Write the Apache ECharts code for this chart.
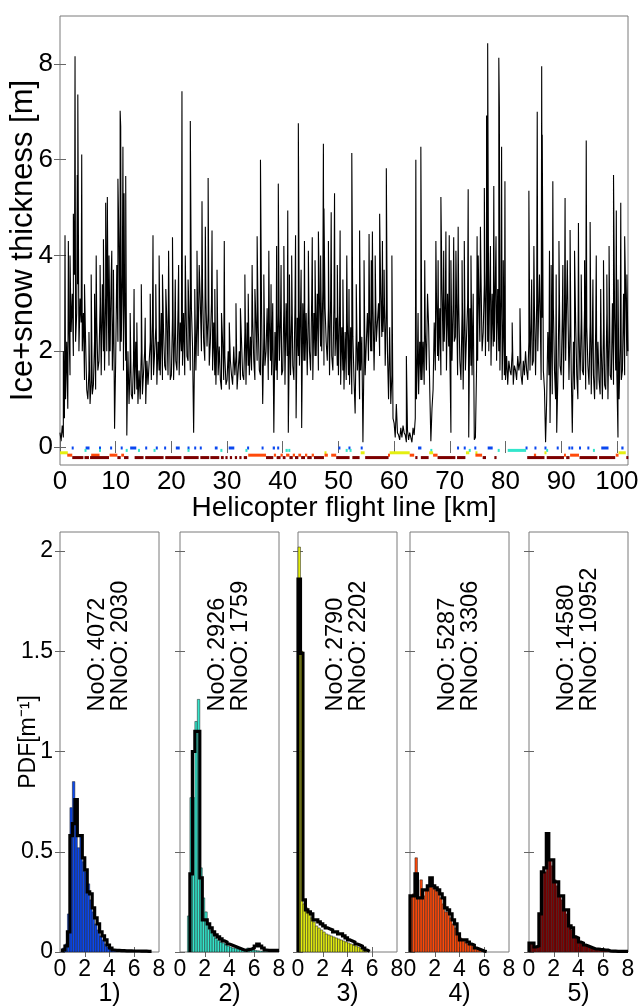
<!DOCTYPE html>
<html><head><meta charset="utf-8">
<script src="https://cdn.jsdelivr.net/npm/echarts@6/dist/echarts.min.js"></script>
<style>html,body{margin:0;padding:0;background:#fff}#c{width:638px;height:1008px}</style>
</head><body><div id="c"></div>
<script>
// ---------- DATA ----------
// Ice+snow thickness along the flight line, sampled every 0.2 km (5 values per km row)
const kmStep = 0.2;
const thicknessBase = [
0.3,0.12,0.45,0.2,0.6, 1.0,2.2,0.8,2.6,1.5, 2.4,3.2,1.9,3.6,2.2, 2.8,3.4,2.0,3.1,2.6, 2.0,2.8,1.4,2.2,1.2,
1.0,1.6,0.9,1.4,1.1, 1.3,2.2,1.2,2.6,1.6, 1.8,3.0,1.5,3.4,2.0, 1.6,3.2,2.0,3.5,1.7, 2.0,3.6,1.6,2.8,0.38,
1.8,3.8,2.2,4.2,2.0, 2.2,3.6,1.6,3.2,1.8, 0.24,2.0,0.9,1.8,1.1, 1.0,1.8,1.1,2.2,1.2, 0.9,1.6,1.0,2.0,1.1,
1.1,2.0,0.9,1.8,1.3, 1.3,2.2,1.4,2.6,1.5, 1.5,2.5,1.3,2.2,1.6, 1.5,2.8,1.4,2.4,1.7, 1.6,2.6,1.5,2.9,1.4,
1.5,2.7,1.4,2.4,1.8, 1.6,2.9,1.5,2.6,2.0, 1.7,2.8,1.5,3.1,1.9, 1.8,2.7,1.6,2.9,2.1, 0.3,2.4,1.6,2.8,1.9,
1.9,3.0,2.0,3.3,2.2, 1.8,3.1,2.1,2.8,1.7, 2.2,3.0,1.6,2.6,1.5, 1.3,2.4,1.5,2.1,1.4, 1.2,2.2,1.4,1.9,1.3,
1.4,2.0,1.2,1.8,1.5, 1.3,2.1,1.5,1.9,1.2, 1.2,2.0,1.4,2.2,1.5, 1.4,2.4,1.3,2.6,1.7, 1.5,2.3,1.6,2.7,1.8,
1.4,2.6,1.8,2.5,1.6, 1.5,2.8,0.9,2.3,1.7, 2.0,2.9,1.4,2.6,1.8, 1.5,3.0,0.3,2.4,1.6, 1.4,2.8,1.8,2.7,1.5,
1.6,2.9,1.3,3.0,1.9, 0.3,2.4,1.5,2.8,1.7, 1.4,3.0,0.6,2.7,1.9, 1.7,2.9,0.4,3.0,1.8, 1.8,2.8,1.5,3.0,2.0,
1.6,3.1,1.4,2.8,1.9, 1.9,3.2,1.6,3.0,2.1, 2.0,3.3,1.7,2.9,2.2, 1.8,2.9,1.5,3.1,1.9, 1.6,3.0,1.9,2.7,1.7,
1.5,2.8,1.3,2.5,1.6, 1.2,2.4,1.4,2.6,1.5, 1.3,2.5,1.1,2.3,1.4, 0.7,2.5,1.6,2.2,1.0, 1.6,2.3,0.1,2.0,1.5,
1.5,2.8,1.8,2.7,2.0, 2.0,3.0,1.6,2.9,2.2, 2.2,3.0,1.9,3.2,2.3, 2.4,3.0,1.7,2.9,2.0, 1.0,2.5,0.9,1.5,0.6,
0.5,0.2,0.9,0.3,0.25, 0.15,0.4,0.2,0.45,0.3, 0.25,0.1,0.35,0.15,0.3, 0.3,0.1,0.4,0.25,0.6, 1.0,1.9,1.1,2.2,1.4,
1.4,2.2,1.3,2.4,1.6, 1.6,2.5,1.2,0.12,0.8, 1.2,2.6,1.6,3.2,1.9, 1.8,2.9,1.5,3.3,2.0, 2.2,3.1,1.6,3.2,2.1,
2.0,0.3,1.8,3.0,2.2, 2.3,3.2,1.5,3.0,1.8, 1.4,2.8,1.2,3.0,1.6, 1.6,3.0,0.2,2.9,1.7, 1.5,3.2,0.15,0.2,1.6,
1.8,3.3,2.2,3.6,2.0, 2.4,3.4,1.9,3.7,2.2, 2.0,3.5,1.7,3.2,2.1, 2.2,3.6,1.8,3.3,2.0, 1.6,3.2,1.4,2.7,1.5,
1.4,1.9,1.3,1.8,1.6, 1.5,2.0,1.3,1.7,1.6, 1.4,1.9,1.6,1.8,1.5, 1.3,1.8,1.5,2.0,1.6, 1.4,2.2,1.6,2.6,1.7,
1.8,2.9,1.5,3.0,2.0, 2.0,3.0,1.4,2.7,1.6, 1.2,0.1,1.0,2.4,1.5, 0.5,2.7,1.1,2.9,1.6, 1.0,0.3,1.4,3.0,1.7,
1.5,2.7,1.2,2.9,1.8, 1.8,3.0,1.4,2.6,1.6, 0.3,2.2,1.2,2.6,1.5, 1.0,2.4,1.4,2.7,1.6, 1.5,2.9,1.2,2.5,1.7,
1.3,2.6,1.1,2.4,1.5, 1.0,2.5,1.2,2.2,1.4, 1.1,2.1,1.0,2.5,1.3, 1.2,2.8,1.0,2.6,1.5, 1.4,3.0,1.3,2.7,1.6,
1.5,0.2,1.0,2.1,1.4, 1.6,3.2,1.5,3.1,1.9, 2.0
];
// isolated ridges / spikes: [km, thickness m]
const thicknessSpikes = [
[0.6,2.0],[0.9,4.42],[1.5,4.3],[1.8,4.0],[2.4,4.87],[2.7,8.16],[3.1,5.68],[3.2,7.36],[3.9,6.11],[4.4,3.4],
[5.2,2.4],[5.6,3.6],[6.2,3.2],[6.5,4.0],[7.2,3.8],[7.8,4.34],[8.2,5.1],[8.5,5.22],[8.8,4.0],[9.3,4.1],
[9.6,3.7],[10.4,5.6],[10.8,7.02],[10.9,6.7],[11.3,6.27],[11.5,5.3],[11.8,5.66],[12.6,2.8],[13.3,3.3],[13.8,2.6],
[14.6,3.4],[15.3,2.7],[16.2,3.2],[16.7,4.42],[17.2,3.4],[17.8,4.0],[18.4,3.6],[19.0,3.3],[19.5,4.1],[20.2,4.38],
[20.7,3.5],[21.3,3.8],[21.9,7.43],[22.5,4.0],[23.0,3.5],[23.4,6.81],[24.2,3.3],[24.6,4.1],[25.0,3.8],[25.5,5.13],
[26.1,4.6],[26.6,5.62],[27.3,4.52],[27.8,3.3],[28.2,3.7],[29.0,2.8],[29.5,4.3],[30.4,2.6],[31.6,3.0],[32.4,2.9],
[33.2,3.6],[33.8,3.2],[34.5,3.8],[35.0,3.3],[35.4,4.4],[36.0,6.0],[36.6,3.6],[37.5,4.1],[37.9,3.4],[38.9,4.2],
[39.2,5.5],[39.7,3.8],[40.2,4.2],[40.9,4.94],[41.2,3.6],[41.6,4.0],[42.3,4.42],[42.8,6.76],[43.3,3.7],[43.9,4.3],
[44.6,4.1],[45.3,4.38],[45.8,3.9],[46.4,4.5],[46.8,4.0],[47.3,6.33],[47.4,4.98],[48.2,4.3],[48.7,4.9],[49.3,5.3],
[49.8,3.8],[50.3,4.52],[50.8,3.5],[51.5,4.0],[51.9,3.3],[52.4,6.14],[53.2,3.4],[53.8,4.52],[54.6,3.9],[55.5,4.45],
[55.9,3.9],[56.1,4.5],[56.6,4.0],[57.4,4.87],[57.9,4.3],[58.2,3.7],[58.6,5.82],[59.6,4.0],[62.2,1.9],[63.9,6.0],
[64.3,2.8],[64.8,6.27],[65.5,3.9],[66.0,3.2],[67.5,4.3],[67.9,3.9],[68.4,5.22],[68.9,4.1],[69.3,4.5],[69.9,4.42],
[70.2,3.9],[70.7,4.38],[71.1,4.1],[71.5,4.6],[72.2,3.9],[72.6,4.3],[73.3,5.38],[73.8,4.0],[74.9,4.4],[75.1,4.0],
[75.5,4.6],[76.2,5.41],[76.6,6.92],[76.8,8.43],[77.3,4.2],[77.9,5.45],[78.3,4.4],[78.8,8.13],[78.9,7.1],[79.3,6.27],
[79.6,3.9],[79.9,5.55],[81.2,2.6],[82.6,2.9],[84.2,5.35],[84.7,3.5],[85.1,4.2],[85.7,7.0],[86.1,3.6],[86.5,7.95],
[86.6,6.52],[87.9,4.1],[88.2,3.8],[88.5,5.55],[89.1,3.6],[89.6,4.3],[90.3,3.8],[90.7,5.2],[91.1,3.9],[91.6,4.53],
[92.4,4.1],[93.1,4.68],[93.6,3.6],[94.2,3.9],[94.5,6.4],[95.2,4.7],[95.7,3.5],[96.3,4.0],[97.1,3.3],[97.6,3.9],
[98.2,3.6],[98.6,4.2],[99.4,5.68],[99.9,4.94],[100.2,3.5],[100.7,5.1],[101.4,4.4],[101.8,3.6]
];
// ice-class segments along the track [startKm, endKm]
const class1Segments = [[2.1,2.4],[4.6,5.3],[7.0,7.3],[9.0,9.3],[10.9,11.1],[12.6,13.7],[15.3,15.6],[17.2,17.5],[18.7,19.0],[20.8,21.5],[22.9,23.2],[24.1,24.4],[25.1,25.4],[27.8,28.3],[30.3,31.3],[33.6,33.9],[36.2,36.5],[38.2,38.6],[39.0,39.3],[50.0,50.3],[51.8,52.1],[54.0,54.2],[64.3,64.9],[71.3,71.6],[72.5,72.8],[74.4,74.6],[76.8,77.7],[83.6,83.9],[85.2,85.4],[87.0,87.2],[89.2,89.5],[91.3,91.5],[91.8,92.0],[93.2,93.4],[94.7,94.9],[97.2,98.5],[100.8,101.2]];
const class2Segments = [[4.4,4.7],[7.0,7.2],[11.8,12.1],[14.0,14.3],[16.8,17.1],[22.9,23.1],[28.8,29.1],[33.3,33.6],[40.5,40.9],[41.0,41.3],[51.3,51.6],[52.0,52.3],[66.5,66.8],[73.4,73.7],[78.6,78.9],[80.4,83.7],[87.3,87.5],[95.7,96.0]];
const class3Segments = [[0.0,1.4],[47.5,47.7],[54.0,54.7],[59.2,62.8],[66.3,67.0],[72.9,73.5],[74.6,74.8],[87.0,87.3],[100.3,101.6]];
const class4Segments = [[1.3,2.2],[5.6,7.1],[8.9,10.3],[11.0,11.5],[33.8,37.0],[38.4,38.8],[39.6,40.0],[40.6,41.2],[41.8,42.2],[42.8,43.3],[44.0,44.4],[45.2,45.6],[47.5,48.1],[48.7,49.6],[58.9,59.2],[62.8,63.6],[67.0,67.8],[74.6,75.8],[85.1,85.5],[90.5,90.8],[91.6,93.2],[99.8,100.3]];
const class5Segments = [[2.2,4.2],[4.4,5.2],[5.4,8.8],[10.3,10.9],[11.5,12.3],[13.4,15.0],[15.3,18.6],[18.9,21.8],[22.2,24.9],[25.2,26.8],[27.0,28.6],[28.9,29.4],[29.7,30.1],[30.5,30.9],[31.4,31.8],[32.2,32.6],[33.0,33.6],[37.0,38.3],[38.9,39.6],[40.0,40.5],[41.2,41.8],[42.2,42.8],[43.3,44.0],[44.4,45.2],[45.6,47.4],[49.6,52.0],[52.5,53.8],[54.8,59.0],[63.8,64.2],[64.8,66.2],[67.8,71.0],[71.3,72.8],[75.9,76.5],[78.0,78.4],[83.9,87.0],[87.4,90.5],[90.9,91.5],[93.3,96.5],[96.8,99.7],[101.7,102]];

// Thickness PDFs per ice class, bins of 0.2 m from 0 to 8 m
const binWidth = 0.2;
const pdfBars1 = [0,0.02,0.04,0.19,0.72,0.85,0.66,0.52,0.58,0.45,0.40,0.34,0.26,0.20,0.14,0.11,0.08,0.06,0.04,0.025,0.015,0.01,0.008,0.006,0.006,0.005,0.005,0.004,0.004,0.004,0.003,0.003,0.003,0.003,0.002,0.002,0,0,0,0];
const pdfLine1 = [null,0.01,0.03,0.1,0.58,0.64,0.76,0.58,0.58,0.47,0.41,0.30,0.29,0.22,0.17,0.14,0.10,0.08,0.06,0.035,0.02,0.01,0.008,0.008,0.007,0.007,0.006,0.006,0.006,0.005,0.005,0.005,0.004,0.004,0.004,0.003,0.003,null,null,null];
const pdfBars2 = [0,0,0,0.18,0.77,0.77,1.15,1.26,0.42,0.27,0.20,0.14,0.11,0.09,0.07,0.06,0.05,0.045,0.04,0.03,0.025,0.02,0.018,0.015,0.012,0.01,0.015,0.02,0.015,0.01,0.008,0.006,0.005,0.004,0.003,0.003,0.002,0.002,0.002,0.002];
const pdfLine2 = [null,null,null,null,0.39,1.0,1.1,1.1,0.37,0.16,0.16,0.14,0.12,0.10,0.085,0.075,0.065,0.055,0.05,0.04,0.035,0.03,0.025,0.02,0.015,0.01,0.008,0.012,0.015,0.02,0.03,0.04,0.03,0.02,0.01,0.008,0.008,0.008,0.008,0.008];
const pdfBars3 = [2.02,1.5,0.24,0.22,0.2,0.17,0.15,0.13,0.12,0.11,0.10,0.09,0.085,0.08,0.075,0.07,0.065,0.06,0.055,0.05,0.045,0.04,0.035,0.03,0.025,0.02,0.01,0.005,0,0,0,0,0,0,0,0,0,0,0,0];
const pdfLine3 = [1.86,1.49,0.26,0.21,0.2,0.19,0.16,0.16,0.15,0.14,0.13,0.12,0.115,0.11,0.10,0.10,0.09,0.09,0.08,0.07,0.06,0.055,0.05,0.04,0.035,0.03,0.02,0.01,0.003,null,null,null,null,null,null,null,null,null,null,null];
const pdfBars4 = [0.28,0.29,0.47,0.27,0.36,0.28,0.31,0.33,0.34,0.32,0.31,0.30,0.27,0.24,0.20,0.20,0.17,0.14,0.12,0.09,0.07,0.06,0.05,0.04,0.035,0.03,0.02,0.012,0.008,0.004,0,0,0,0,0,0,0,0,0,0];
const pdfLine4 = [0.28,0.28,0.39,0.27,0.27,0.31,0.31,0.33,0.37,0.33,0.32,0.31,0.29,0.27,0.22,0.21,0.19,0.16,0.14,0.09,0.06,0.06,0.06,0.05,0.04,0.035,0.02,0.015,0.01,0.005,0.002,null,null,null,null,null,null,null,null,null];
const pdfBars5 = [0.045,0.04,0.03,0.03,0.19,0.40,0.40,0.50,0.46,0.43,0.36,0.33,0.28,0.26,0.21,0.19,0.13,0.11,0.08,0.065,0.05,0.04,0.035,0.03,0.025,0.02,0.018,0.015,0.012,0.01,0.009,0.007,0.005,0.004,0.003,0.002,0.002,0.002,0.002,0.002];
const pdfLine5 = [0.045,0.045,0.025,0.03,0.19,0.40,0.42,0.59,0.46,0.46,0.35,0.35,0.28,0.28,0.21,0.21,0.13,0.12,0.075,0.07,0.05,0.045,0.035,0.03,0.025,0.02,0.015,0.015,0.013,0.012,0.01,0.01,0.005,0.004,0.004,0.003,0.003,0.003,0.003,0.003];
const countsNoO = [4072, 2926, 2790, 5287, 14580];
const countsRNoO = [2030, 1759, 2202, 3306, 10952];
const panelLabels = ['1)', '2)', '3)', '4)', '5)'];

const topXTicks = [0,10,20,30,40,50,60,70,80,90,100];
const topYTicks = [0,2,4,6,8];
const pdfXLabels = [0,2,4,6,8];
const pdfXTicks = [2,4,6];
const pdfYTicks = [0,0.5,1,1.5,2];

// ---------- STYLE ----------
const FONT = '"Liberation Sans", Arial, sans-serif';
const classColors = ['#0a48f0', '#33e6cc', '#e4ef10', '#ff4a0a', '#7c0000'];
const classRowY = [-0.02, -0.07, -0.12, -0.17, -0.22];
const panelLeft = [60, 180, 298, 410, 529];
const panelTop = 532, panelW = 99, panelH = 420;
const borderCol = '#7a7a7a', tickCol = '#666';

const chart = echarts.init(document.getElementById('c'), null, {renderer: 'canvas'});

const linePts = thicknessBase.map((v, i) => [+(i * kmStep).toFixed(2), v]).concat(thicknessSpikes.map(p => [p[0], p[1]]));
linePts.sort((a, b) => a[0] - b[0]);

const gridBase = {show: true, borderColor: borderCol, borderWidth: 1, containLabel: false, outerBoundsMode: 'none'};
const grids = [Object.assign({left: 60, top: 16, width: 568, height: 449}, gridBase)];
panelLeft.forEach(l => grids.push(Object.assign({left: l, top: panelTop, width: panelW, height: panelH}, gridBase)));

const tickStyle = {color: tickCol, width: 1};
const xAxes = [
  {type: 'value', gridIndex: 0, min: 0, max: 102, position: 'bottom',
   axisLine: {show: false}, splitLine: {show: false},
   axisTick: {inside: true, length: 6, lineStyle: tickStyle, customValues: topXTicks},
   axisLabel: {customValues: topXTicks, fontSize: 26, fontFamily: FONT, color: '#000', margin: 4},
   name: 'Helicopter flight line [km]', nameLocation: 'middle', nameGap: 29, nameMoveOverlap: false,
   nameTextStyle: {fontSize: 28, fontFamily: FONT, color: '#000'}},
  {type: 'value', gridIndex: 0, min: 0, max: 102, position: 'top',
   axisLine: {show: false}, splitLine: {show: false},
   axisTick: {inside: true, length: 6, lineStyle: tickStyle, customValues: topXTicks},
   axisLabel: {show: false}}
];
const yAxes = [
  {type: 'value', gridIndex: 0, min: -0.375, max: 9, position: 'left',
   axisLine: {show: false}, splitLine: {show: false},
   axisTick: {inside: true, length: 6, lineStyle: tickStyle, customValues: topYTicks},
   axisLabel: {customValues: topYTicks, fontSize: 26, fontFamily: FONT, color: '#000', margin: 7},
   name: 'Ice+snow thickness [m]', nameLocation: 'middle', nameGap: 21, nameMoveOverlap: false,
   nameTextStyle: {fontSize: 31, fontFamily: FONT, color: '#000'}},
  {type: 'value', gridIndex: 0, min: -0.375, max: 9, position: 'right',
   axisLine: {show: false}, splitLine: {show: false},
   axisTick: {inside: true, length: 6, lineStyle: tickStyle, customValues: topYTicks},
   axisLabel: {show: false}}
];
for (let p = 0; p < 5; p++) {
  const g = p + 1;
  xAxes.push({type: 'value', gridIndex: g, min: 0, max: 8, position: 'bottom',
    axisLine: {show: false}, splitLine: {show: false},
    axisTick: {inside: true, length: 5, lineStyle: tickStyle, customValues: pdfXTicks},
    axisLabel: {customValues: pdfXLabels, fontSize: 23, fontFamily: FONT, color: '#000', margin: 6},
    name: panelLabels[p], nameLocation: 'middle', nameGap: 30, nameMoveOverlap: false,
    nameTextStyle: {fontSize: 25, fontFamily: FONT, color: '#000'}});
  xAxes.push({type: 'value', gridIndex: g, min: 0, max: 8, position: 'top',
    axisLine: {show: false}, splitLine: {show: false},
    axisTick: {inside: true, length: 5, lineStyle: tickStyle, customValues: pdfXTicks},
    axisLabel: {show: false}});
  yAxes.push({type: 'value', gridIndex: g, min: 0, max: 2.095, position: 'left',
    axisLine: {show: false}, splitLine: {show: false},
    axisTick: {inside: true, length: 5, lineStyle: tickStyle, customValues: pdfYTicks},
    axisLabel: {show: p === 0, customValues: pdfYTicks, fontSize: 23, fontFamily: FONT, color: '#000', margin: 7},
    name: p === 0 ? 'PDF[m\u207B\u00B9]' : '', nameLocation: 'middle', nameGap: 20, nameMoveOverlap: false,
    nameTextStyle: {fontSize: 23, fontFamily: FONT, color: '#000'}});
  yAxes.push({type: 'value', gridIndex: g, min: 0, max: 2.095, position: 'right',
    axisLine: {show: false}, splitLine: {show: false},
    axisTick: {inside: true, length: 5, lineStyle: tickStyle, customValues: pdfYTicks},
    axisLabel: {show: false}});
}

const series = [];
series.push({type: 'line', xAxisIndex: 0, yAxisIndex: 0, data: linePts, showSymbol: false,
  symbol: 'none', lineStyle: {color: '#000', width: 1.1}, animation: false, clip: true, silent: true});

const classSegs = [class1Segments, class2Segments, class3Segments, class4Segments, class5Segments];
classSegs.forEach((segs, k) => {
  series.push({type: 'custom', xAxisIndex: 0, yAxisIndex: 0, silent: true, animation: false,
    data: segs.map(s => [s[0], s[1], classRowY[k]]),
    encode: {x: [0, 1], y: 2},
    renderItem: function (params, api) {
      const a = api.coord([api.value(0), api.value(2)]);
      const b = api.coord([api.value(1), api.value(2)]);
      return {type: 'rect', shape: {x: a[0], y: a[1] - 1.5, width: Math.max(b[0] - a[0], 2), height: 3},
        style: {fill: classColors[k]}};
    }});
});

const barsAll = [pdfBars1, pdfBars2, pdfBars3, pdfBars4, pdfBars5];
const linesAll = [pdfLine1, pdfLine2, pdfLine3, pdfLine4, pdfLine5];
for (let p = 0; p < 5; p++) {
  const xi = 2 + 2 * p, yi = 2 + 2 * p;
  series.push({type: 'custom', xAxisIndex: xi, yAxisIndex: yi, silent: true, animation: false,
    data: barsAll[p].map((v, i) => [i * binWidth, v]).filter(d => d[1] > 0),
    encode: {x: 0, y: 1},
    renderItem: function (params, api) {
      const a = api.coord([api.value(0), api.value(1)]);
      const b = api.coord([api.value(0) + binWidth, 0]);
      return {type: 'rect', shape: {x: a[0], y: a[1], width: b[0] - a[0], height: b[1] - a[1]},
        style: {fill: classColors[p], stroke: '#1a1a1a', lineWidth: 0.5}};
    }});
  const arr = linesAll[p];
  const pts = [];
  let started = false;
  for (let i = 0; i < arr.length; i++) {
    if (arr[i] === null) { if (started) break; else continue; }
    if (!started) { pts.push([i * binWidth, 0]); started = true; }
    pts.push([(i + 1) * binWidth, arr[i]]);
  }
  series.push({type: 'line', xAxisIndex: xi, yAxisIndex: yi, data: pts, step: 'start',
    showSymbol: false, symbol: 'none', lineStyle: {color: '#000', width: 3.2, join: 'miter'},
    animation: false, silent: true, clip: true});
}

chart.setOption({animation: false, grid: grids, xAxis: xAxes, yAxis: yAxes, series: series});

const graphics = [];
for (let p = 0; p < 5; p++) {
  const pos = chart.convertToPixel({gridIndex: p + 1}, [4, 1.2]);
  graphics.push({type: 'text', x: pos[0], y: pos[1], rotation: Math.PI / 2, silent: true,
    style: {text: 'NoO: ' + countsNoO[p] + '\nRNoO: ' + countsRNoO[p],
      font: '23.5px ' + FONT, fill: '#000', align: 'left', verticalAlign: 'middle', lineHeight: 23}});
}
chart.setOption({graphic: graphics});
</script></body></html>
